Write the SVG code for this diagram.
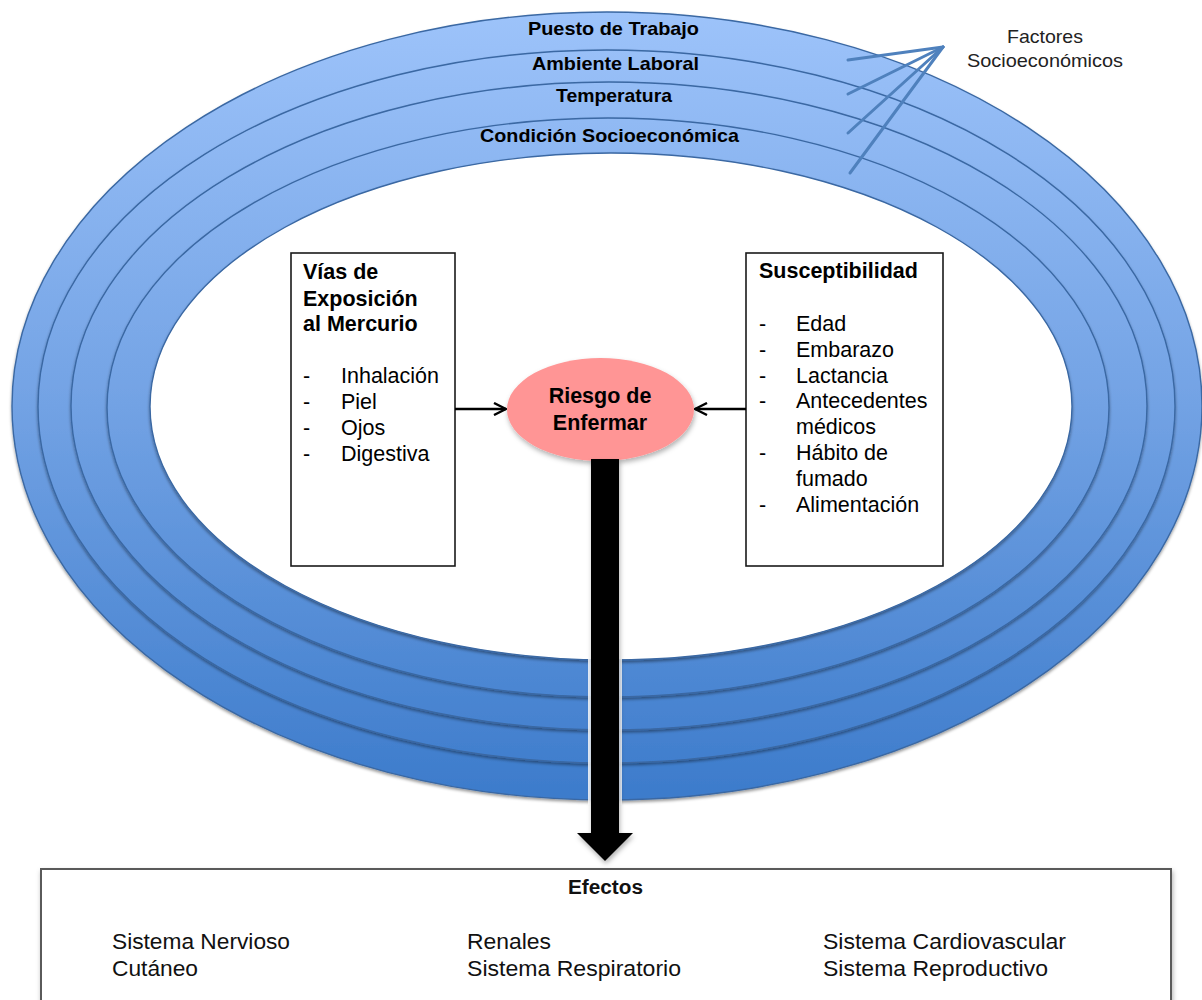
<svg xmlns="http://www.w3.org/2000/svg" width="1202" height="1000" viewBox="0 0 1202 1000">
  <defs>
    <linearGradient id="ringGrad" gradientUnits="userSpaceOnUse" x1="0" y1="12" x2="0" y2="800">
      <stop offset="0" stop-color="#9DC3FA"/>
      <stop offset="0.5" stop-color="#72A2E4"/>
      <stop offset="1" stop-color="#3C7BCB"/>
    </linearGradient>
    <filter id="ringShadow" x="-5%" y="-5%" width="110%" height="115%">
      <feDropShadow dx="0" dy="2" stdDeviation="1.5" flood-color="#000" flood-opacity="0.4"/>
    </filter>
    <filter id="softShadow" x="-10%" y="-10%" width="130%" height="140%">
      <feDropShadow dx="1" dy="3" stdDeviation="2.5" flood-color="#000" flood-opacity="0.3"/>
    </filter>
    <marker id="openHead" viewBox="0 0 14 14" refX="13" refY="7" markerWidth="14" markerHeight="14" markerUnits="userSpaceOnUse" orient="auto">
      <path d="M1,1 L13,7 L1,13" fill="none" stroke="#000" stroke-width="2.4" stroke-linejoin="miter"/>
    </marker>
    <style>
      .ring { fill: url(#ringGrad); stroke: #3A68A3; stroke-width: 1.4; filter: url(#ringShadow); }
      .lbl { font-family: "Liberation Sans", Arial, sans-serif; font-weight: bold; font-size: 19px; fill: #000; }
      .fac { font-family: "Liberation Sans", Arial, sans-serif; font-size: 18.5px; fill: #222; }
      .box { fill: #fff; stroke: #1a1a1a; stroke-width: 1.6; }
      .bt { font-family: "Liberation Sans", Arial, sans-serif; font-size: 21.5px; fill: #000; }
      .bh { font-family: "Liberation Sans", Arial, sans-serif; font-size: 21.5px; font-weight: bold; fill: #000; }
      .et { font-family: "Liberation Sans", Arial, sans-serif; font-size: 22px; fill: #111; }
      .eh { font-family: "Liberation Sans", Arial, sans-serif; font-size: 19.5px; font-weight: bold; fill: #111; }
      .fline { stroke: #4F81BD; stroke-width: 3; stroke-linecap: round; fill: none; }
      .conn { stroke: #000; stroke-width: 2.5; fill: none; }
    </style>
  </defs>

  <g id="rings">
    <ellipse class="ring" cx="607" cy="406" rx="595" ry="394"/>
    <ellipse class="ring" cx="606.5" cy="406.5" rx="568.5" ry="356.5"/>
    <ellipse class="ring" cx="609" cy="406" rx="538" ry="324"/>
    <ellipse class="ring" cx="608" cy="407.5" rx="501" ry="289.5"/>
    <ellipse cx="611" cy="406.5" rx="461" ry="253.5" fill="#fff" stroke="#3A68A3" stroke-width="1.4" filter="url(#ringShadow)"/>
  </g>

  <g id="ring-labels">
    <text class="lbl" x="528" y="35" textLength="171" lengthAdjust="spacingAndGlyphs">Puesto de Trabajo</text>
    <text class="lbl" x="532" y="70" textLength="167" lengthAdjust="spacingAndGlyphs">Ambiente Laboral</text>
    <text class="lbl" x="556" y="102" textLength="116" lengthAdjust="spacingAndGlyphs">Temperatura</text>
    <text class="lbl" x="480" y="142" textLength="259" lengthAdjust="spacingAndGlyphs">Condición Socioeconómica</text>
  </g>

  <g id="factores">
    <line class="fline" x1="943" y1="47" x2="848" y2="60"/>
    <line class="fline" x1="943" y1="47" x2="848" y2="94"/>
    <line class="fline" x1="943" y1="47" x2="848" y2="133"/>
    <line class="fline" x1="943" y1="47" x2="850" y2="173"/>
    <text class="fac" x="1007" y="43" textLength="76" lengthAdjust="spacingAndGlyphs">Factores</text>
    <text class="fac" x="967" y="67" textLength="156" lengthAdjust="spacingAndGlyphs">Socioeconómicos</text>
  </g>

  <g id="vias">
    <rect class="box" x="291" y="253" width="164" height="313"/>
    <text class="bh" x="303" y="279">Vías de</text>
    <text class="bh" x="303" y="305.5">Exposición</text>
    <text class="bh" x="303" y="331">al Mercurio</text>
    <text class="bt" x="303" y="383">-</text>
    <text class="bt" x="341" y="383">Inhalación</text>
    <text class="bt" x="303" y="409">-</text>
    <text class="bt" x="341" y="409">Piel</text>
    <text class="bt" x="303" y="435">-</text>
    <text class="bt" x="341" y="435">Ojos</text>
    <text class="bt" x="303" y="461">-</text>
    <text class="bt" x="341" y="461">Digestiva</text>
  </g>

  <g id="susceptibilidad">
    <rect class="box" x="746" y="253" width="197" height="313"/>
    <text class="bh" x="759" y="278">Susceptibilidad</text>
    <text class="bt" x="759" y="331">-</text>
    <text class="bt" x="796" y="331">Edad</text>
    <text class="bt" x="759" y="357">-</text>
    <text class="bt" x="796" y="357">Embarazo</text>
    <text class="bt" x="759" y="383">-</text>
    <text class="bt" x="796" y="383">Lactancia</text>
    <text class="bt" x="759" y="408">-</text>
    <text class="bt" x="796" y="408">Antecedentes</text>
    <text class="bt" x="796" y="434">médicos</text>
    <text class="bt" x="759" y="460">-</text>
    <text class="bt" x="796" y="460">Hábito de</text>
    <text class="bt" x="796" y="486">fumado</text>
    <text class="bt" x="759" y="512">-</text>
    <text class="bt" x="796" y="512">Alimentación</text>
  </g>

  <g id="riesgo">
    <ellipse cx="600.5" cy="409.5" rx="93.5" ry="51.5" fill="#FF9595" filter="url(#softShadow)"/>
    <text class="bh" x="600" y="403" text-anchor="middle">Riesgo de</text>
    <text class="bh" x="600" y="430" text-anchor="middle">Enfermar</text>
  </g>

  <g id="efectos">
    <rect x="41" y="869" width="1130" height="150" fill="#fff" stroke="#5a5a5a" stroke-width="2" filter="url(#softShadow)"/>
    <text class="eh" x="568" y="894" textLength="75" lengthAdjust="spacingAndGlyphs">Efectos</text>
    <text class="et" x="112" y="949" textLength="178" lengthAdjust="spacingAndGlyphs">Sistema Nervioso</text>
    <text class="et" x="112" y="976" textLength="86" lengthAdjust="spacingAndGlyphs">Cutáneo</text>
    <text class="et" x="467" y="949" textLength="84" lengthAdjust="spacingAndGlyphs">Renales</text>
    <text class="et" x="467" y="976" textLength="214" lengthAdjust="spacingAndGlyphs">Sistema Respiratorio</text>
    <text class="et" x="823" y="949" textLength="243" lengthAdjust="spacingAndGlyphs">Sistema Cardiovascular</text>
    <text class="et" x="823" y="976" textLength="225" lengthAdjust="spacingAndGlyphs">Sistema Reproductivo</text>
  </g>

  <g id="connectors">
    <line class="conn" x1="455" y1="409" x2="506" y2="409" marker-end="url(#openHead)"/>
    <line class="conn" x1="746" y1="409" x2="695" y2="409" marker-end="url(#openHead)"/>
    <rect x="588" y="655" width="34" height="150" fill="#fff" opacity="0.85"/>
    <polygon points="591,459 619,459 619,833 633,833 605,861 577,833 591,833" fill="#000" filter="url(#softShadow)"/>
  </g>
</svg>
